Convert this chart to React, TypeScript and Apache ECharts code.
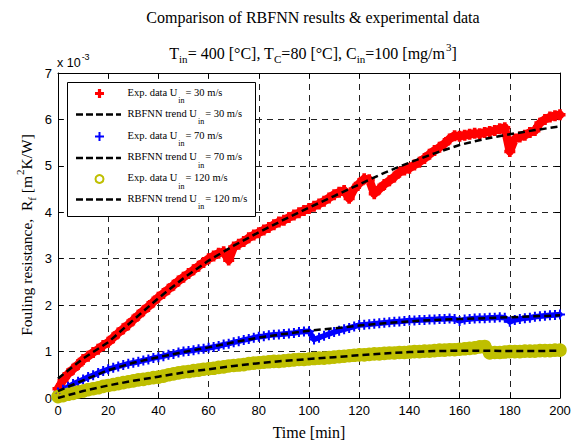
import React, { useEffect, useRef } from "react";
import * as echarts from "echarts";

// Time axis of the experimental samples [min]
const expTime = [
  0, 2, 4, 6, 8, 10, 12, 14, 16, 18, 20, 22, 24, 26, 28, 30, 32, 34, 36, 38, 40,
  42, 44, 46, 48, 50, 52, 54, 56, 58, 60, 62, 64, 66, 68, 70, 72, 74, 76, 78, 80,
  82, 84, 86, 88, 90, 92, 94, 96, 98, 100, 102, 104, 106, 108, 110, 112, 114, 116, 118, 120,
  122, 124, 126, 128, 130, 132, 134, 136, 138, 140, 142, 144, 146, 148, 150, 152, 154, 156, 158, 160,
  162, 164, 166, 168, 170, 172, 174, 176, 178, 180, 182, 184, 186, 188, 190, 192, 194, 196, 198, 200,
];

// Experimental fouling resistance (x 10^-3 m2K/W)
const exp30 = [
  0.2, 0.38, 0.52, 0.62, 0.72, 0.83, 0.9, 0.98, 1.05, 1.13, 1.2, 1.3, 1.4, 1.49, 1.58, 1.68, 1.78, 1.88, 1.97, 2.07, 2.17,
  2.25, 2.34, 2.43, 2.52, 2.6, 2.68, 2.76, 2.84, 2.92, 3.0, 3.06, 3.12, 3.15, 2.97, 3.25, 3.31, 3.37, 3.45, 3.51, 3.56,
  3.62, 3.67, 3.73, 3.79, 3.83, 3.89, 3.94, 3.99, 4.04, 4.08, 4.13, 4.18, 4.24, 4.31, 4.38, 4.43, 4.47, 4.3, 4.5, 4.62,
  4.72, 4.7, 4.4, 4.5, 4.6, 4.68, 4.76, 4.86, 4.91, 4.95, 5.02, 5.08, 5.16, 5.25, 5.33, 5.4, 5.48, 5.58, 5.65, 5.64,
  5.66, 5.68, 5.7, 5.69, 5.72, 5.74, 5.76, 5.8, 5.82, 5.31, 5.58, 5.62, 5.66, 5.72, 5.76, 5.92, 6.0, 6.05, 6.08, 6.1,
];
const exp70 = [
  0.12, 0.18, 0.24, 0.3, 0.35, 0.4, 0.45, 0.49, 0.54, 0.58, 0.62, 0.65, 0.68, 0.71, 0.74, 0.76, 0.78, 0.81, 0.83, 0.86, 0.88,
  0.9, 0.93, 0.95, 0.98, 1.0, 1.01, 1.03, 1.05, 1.06, 1.08, 1.1, 1.12, 1.15, 1.17, 1.2, 1.22, 1.25, 1.27, 1.3, 1.32,
  1.33, 1.35, 1.36, 1.37, 1.38, 1.39, 1.4, 1.42, 1.43, 1.44, 1.26, 1.3, 1.34, 1.38, 1.42, 1.45, 1.48, 1.51, 1.54, 1.57,
  1.58, 1.59, 1.6, 1.61, 1.62, 1.63, 1.64, 1.65, 1.66, 1.67, 1.67, 1.68, 1.68, 1.69, 1.69, 1.7, 1.7, 1.71, 1.7, 1.66,
  1.69, 1.7, 1.71, 1.72, 1.72, 1.73, 1.73, 1.74, 1.73, 1.64, 1.68, 1.7, 1.72, 1.73, 1.75, 1.76, 1.77, 1.78, 1.79, 1.8,
];
const exp120 = [
  0.03, 0.05, 0.08, 0.1, 0.13, 0.15, 0.18, 0.2, 0.22, 0.25, 0.27, 0.29, 0.31, 0.33, 0.35, 0.37, 0.39, 0.4, 0.42, 0.44, 0.45,
  0.47, 0.5, 0.52, 0.54, 0.56, 0.57, 0.59, 0.6, 0.62, 0.63, 0.64, 0.66, 0.67, 0.69, 0.7, 0.71, 0.72, 0.74, 0.75, 0.76,
  0.77, 0.78, 0.79, 0.79, 0.8, 0.81, 0.82, 0.83, 0.83, 0.84, 0.85, 0.86, 0.86, 0.87, 0.88, 0.89, 0.9, 0.91, 0.92, 0.93,
  0.93, 0.94, 0.95, 0.95, 0.96, 0.97, 0.97, 0.98, 0.98, 0.99, 1.0, 1.0, 1.01, 1.01, 1.02, 1.03, 1.03, 1.04, 1.04, 1.05,
  1.06, 1.07, 1.08, 1.1, 1.11, 0.97, 0.98, 0.98, 0.99, 1.0, 1.0, 1.0, 1.01, 1.01, 1.01, 1.02, 1.02, 1.02, 1.03, 1.03,
];

// RBFNN trend
const trendTime = [0, 10, 20, 30, 40, 50, 60, 70, 80, 90, 100, 110, 120, 130, 140, 150, 160, 170, 180, 190, 200];
const trend30 = [0.42, 0.85, 1.2, 1.68, 2.15, 2.58, 2.96, 3.28, 3.57, 3.84, 4.1, 4.35, 4.6, 4.85, 5.07, 5.27, 5.45, 5.58, 5.68, 5.77, 5.85];
const trend70 = [0.15, 0.38, 0.6, 0.76, 0.88, 0.99, 1.09, 1.2, 1.3, 1.38, 1.45, 1.5, 1.56, 1.61, 1.65, 1.68, 1.7, 1.72, 1.74, 1.76, 1.78];
const trend120 = [0.0, 0.15, 0.27, 0.37, 0.46, 0.55, 0.62, 0.69, 0.75, 0.8, 0.84, 0.88, 0.92, 0.96, 0.99, 1.01, 1.02, 1.02, 1.01, 1.01, 1.02];

const legendLabels = [
  ["Exp. data U", "= 30 m/s"],
  ["RBFNN trend U", "= 30 m/s"],
  ["Exp. data U", "= 70 m/s"],
  ["RBFNN trend U", "= 70 m/s"],
  ["Exp. data U", "= 120 m/s"],
  ["RBFNN trend U", "= 120 m/s"],
];

const SERIF = "'Liberation Serif', 'Times New Roman', serif";
const SANS = "'Liberation Sans', Arial, sans-serif";
const RED = "#ff0000";
const BLUE = "#0000ff";
const OLIVE = "#bfbf00";
const PLUS_THICK = "path://M3,0H6V3H9V6H6V9H3V6H0V3H3Z";
const PLUS_THIN = "path://M3.6,0H5.4V3.6H9V5.4H5.4V9H3.6V5.4H0V3.6H3.6Z";

const pairs = (xs: number[], ys: number[]) => xs.map((x, i) => [x, ys[i]]);

function plusPoints(cx: number, cy: number, s: number, t: number) {
  const a = s / 2, b = t / 2;
  return [
    [cx - b, cy - a], [cx + b, cy - a], [cx + b, cy - b], [cx + a, cy - b], [cx + a, cy + b],
    [cx + b, cy + b], [cx + b, cy + a], [cx - b, cy + a], [cx - b, cy + b], [cx - a, cy + b],
    [cx - a, cy - b], [cx - b, cy - b],
  ];
}

export default function App() {
  const ref = useRef<HTMLDivElement>(null);
  useEffect(() => {
    if (!ref.current) return;
    const chart = echarts.init(ref.current, null, { renderer: "svg" });

    const rowY = [93.5, 114.5, 136.5, 158, 179, 199.5];
    const legendRich = {
      a: { fontFamily: SERIF, fontSize: 10.5, lineHeight: 12, verticalAlign: "top", color: "#000" },
      s: { fontFamily: SERIF, fontSize: 8, lineHeight: 8, padding: [10, 1, 0, 1], verticalAlign: "top", color: "#000" },
    };
    const legendEls: any[] = [
      {
        type: "rect",
        shape: { x: 67.5, y: 82.5, width: 188, height: 134 },
        style: { fill: "#fff", stroke: "#000", lineWidth: 1 },
        z: 100,
      },
    ];
    rowY.forEach((y, i) => {
      if (i % 2 === 1) {
        legendEls.push({
          type: "line",
          shape: { x1: 76, y1: y, x2: 121, y2: y },
          style: { stroke: "#000", lineWidth: 2.5, lineDash: [7, 3] },
          z: 101,
        });
      } else if (i === 0) {
        legendEls.push({ type: "polygon", shape: { points: plusPoints(99.5, y, 9, 3.2) }, style: { fill: RED }, z: 101 });
      } else if (i === 2) {
        legendEls.push({ type: "polygon", shape: { points: plusPoints(99.5, y, 9, 2) }, style: { fill: BLUE }, z: 101 });
      } else {
        legendEls.push({
          type: "circle",
          shape: { cx: 99.5, cy: y, r: 4 },
          style: { fill: "none", stroke: OLIVE, lineWidth: 2 },
          z: 101,
        });
      }
      legendEls.push({
        type: "text",
        x: 127.5,
        y: y - 7,
        z: 101,
        style: {
          text: `{a|${legendLabels[i][0]}}{s|in}{a|${legendLabels[i][1]}}`,
          rich: legendRich,
          verticalAlign: "top",
          textVerticalAlign: "top",
        },
      });
    });

    const axisCommon = {
      type: "value" as const,
      axisLine: { show: true, onZero: false, lineStyle: { color: "#000", width: 1 } },
      axisTick: { show: true, inside: true, length: 5, lineStyle: { color: "#000" } },
    };

    const richMain = { fontFamily: SERIF, fontWeight: "normal", fontSize: 16, lineHeight: 18, padding: [4, 0, 0, 0], verticalAlign: "top", color: "#000" };
    const richSub = { fontFamily: SERIF, fontWeight: "normal", fontSize: 11, lineHeight: 11, padding: [12, 0, 0, 0], verticalAlign: "top", color: "#000" };
    const richSup = { fontFamily: SERIF, fontWeight: "normal", fontSize: 11, lineHeight: 11, padding: [0, 0, 0, 1], verticalAlign: "top", color: "#000" };

    const bandSeries = (name: string, ys: number[], color: string, width: number, symbol: string, size: number, itemStyle: any) => ({
      name,
      type: "line",
      z: 2,
      data: pairs(expTime, ys),
      symbol,
      symbolSize: size,
      showSymbol: true,
      showAllSymbol: true,
      itemStyle,
      lineStyle: { color, width, join: "round", cap: "round" },
      clip: false,
    });
    const trendSeries = (name: string, ys: number[]) => ({
      name,
      type: "line",
      z: 5,
      data: pairs(trendTime, ys),
      symbol: "none",
      lineStyle: { color: "#000", width: 2.5, type: [7, 4] },
    });

    chart.setOption({
      animation: false,
      backgroundColor: "#fff",
      title: [
        {
          text: "Comparison of RBFNN results & experimental data",
          left: 308,
          top: 4,
          textAlign: "center",
          textStyle: { fontFamily: SERIF, fontSize: 16, fontWeight: "normal", color: "#000" },
        },
        {
          text: "{m|T}{s|in}{m|= 400 [°C], T}{s|C}{m|=80 [°C], C}{s|in}{m|=100 [mg/m}{p|3}{m|]}",
          left: 308,
          top: 36,
          textAlign: "center",
          textStyle: {
            fontWeight: "normal",
            rich: { m: richMain, s: richSub, p: richSup },
          },
        },
      ],
      grid: { left: 58, right: 23, top: 73, bottom: 49, containLabel: false },
      xAxis: [
        {
          ...axisCommon,
          position: "bottom",
          min: 0,
          max: 200,
          interval: 20,
          axisLabel: { color: "#000", fontFamily: SANS, fontSize: 13, margin: 6 },
          splitLine: { show: true, lineStyle: { color: "#222", width: 1, type: [6, 5] } },
        },
        {
          ...axisCommon,
          position: "top",
          min: 0,
          max: 200,
          interval: 20,
          axisLabel: { show: false },
          splitLine: { show: false },
        },
      ],
      yAxis: [
        {
          ...axisCommon,
          position: "left",
          min: 0,
          max: 7,
          interval: 1,
          axisLabel: { color: "#000", fontFamily: SANS, fontSize: 13, margin: 6 },
          splitLine: { show: true, lineStyle: { color: "#222", width: 1, type: [6, 5] } },
        },
        {
          ...axisCommon,
          position: "right",
          min: 0,
          max: 7,
          interval: 1,
          axisLabel: { show: false },
          splitLine: { show: false },
        },
      ],
      graphic: [
        {
          type: "text",
          x: 309,
          y: 432,
          style: {
            text: "Time [min]",
            fontFamily: SERIF,
            fontSize: 16,
            fontWeight: "normal",
            fill: "#000",
            align: "center",
            textAlign: "center",
            verticalAlign: "middle",
            textVerticalAlign: "middle",
          },
        },
        {
          type: "text",
          x: 57,
          y: 52,
          style: {
            text: "{n|x 10}{e|-3}",
            verticalAlign: "top",
            textVerticalAlign: "top",
            rich: {
              n: { fontFamily: SANS, fontSize: 12.5, lineHeight: 14, padding: [4, 0, 0, 0], verticalAlign: "top", color: "#000" },
              e: { fontFamily: SANS, fontSize: 9, lineHeight: 10, padding: [0, 0, 0, 1], verticalAlign: "top", color: "#000" },
            },
          },
        },
        {
          type: "text",
          x: 23,
          y: 235,
          rotation: Math.PI / 2,
          style: {
            text: "{m|Fouling resistance,  R}{s|f}{m| [m}{p|2}{m|K/W]}",
            align: "center",
            textAlign: "center",
            verticalAlign: "middle",
            textVerticalAlign: "middle",
            rich: {
              m: { ...richMain, fontSize: 15.5 },
              s: richSub,
              p: richSup,
            },
          },
        },
        ...legendEls,
      ],
      series: [
        bandSeries("Exp. data Uin = 30 m/s", exp30, RED, 8.5, PLUS_THICK, 11, { color: RED }),
        trendSeries("RBFNN trend Uin = 30 m/s", trend30),
        bandSeries("Exp. data Uin = 70 m/s", exp70, BLUE, 5.5, PLUS_THIN, 10, { color: BLUE }),
        trendSeries("RBFNN trend Uin = 70 m/s", trend70),
        bandSeries("Exp. data Uin = 120 m/s", exp120, OLIVE, 12, "circle", 11, {
          color: "rgba(0,0,0,0)",
          borderColor: OLIVE,
          borderWidth: 2.5,
        }),
        trendSeries("RBFNN trend Uin = 120 m/s", trend120),
      ],
    });
    return () => chart.dispose();
  }, []);

  return (
    <div
      ref={ref}
      style={{ position: "absolute", left: 0, top: 0, width: 583, height: 447, background: "#fff" }}
    />
  );
}
